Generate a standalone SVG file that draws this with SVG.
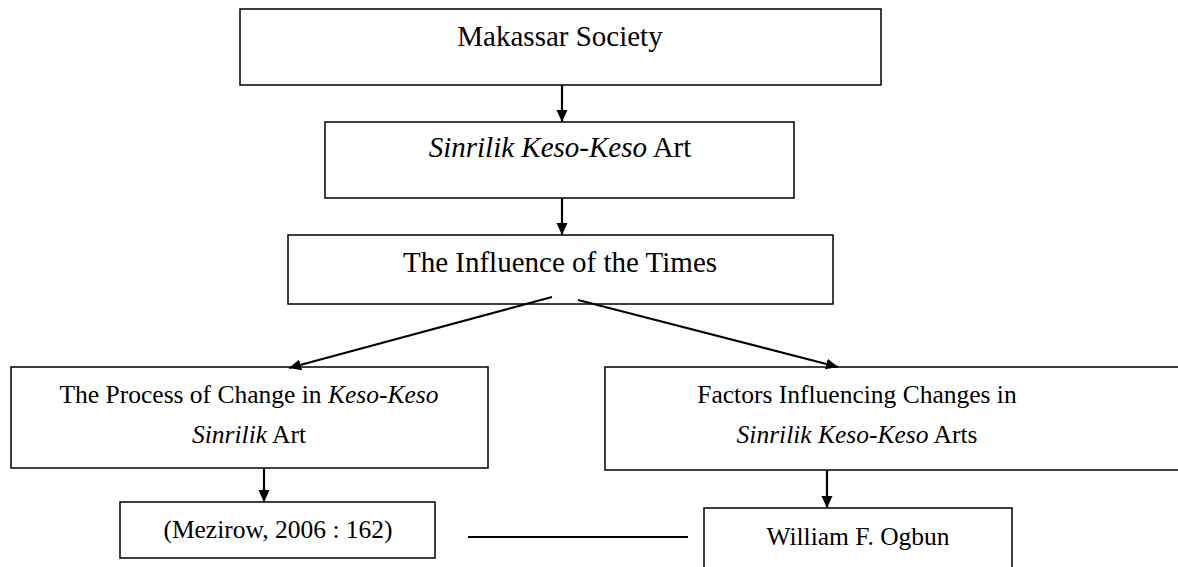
<svg xmlns="http://www.w3.org/2000/svg" width="1178" height="567" viewBox="0 0 1178 567">
<style>
.box{fill:#fff;stroke:#000;stroke-width:1.5}
.t{font-family:"Liberation Serif","Times New Roman",serif;font-size:29px;fill:#000;text-anchor:middle}
.s{font-size:25.5px}
.i{font-style:italic}
.c{stroke:#000;stroke-width:2.2;fill:none}
</style>
<defs>
<marker id="ah" markerWidth="12" markerHeight="12" refX="12" refY="6" orient="auto" markerUnits="userSpaceOnUse" viewBox="0 0 12 12">
<path d="M0,0.5 L12,6 L0,11.5 z" fill="#000"/>
</marker>
</defs>
<g id="n1"><rect class="box" x="240" y="9" width="641" height="76"/><text class="t" x="560" y="46">Makassar Society</text></g>
<g id="n2"><rect class="box" x="325" y="122" width="469" height="76"/><text class="t" x="560" y="157"><tspan class="i">Sinrilik Keso-Keso</tspan> Art</text></g>
<g id="n3"><rect class="box" x="288" y="235" width="545" height="69"/><text class="t" x="560" y="272">The Influence of the Times</text></g>
<g id="n4"><rect class="box" x="11" y="367" width="477" height="101"/><text class="t s" x="249" y="403">The Process of Change in <tspan class="i">Keso-Keso</tspan></text><text class="t s" x="249" y="443"><tspan class="i">Sinrilik</tspan> Art</text></g>
<g id="n5"><rect class="box" x="605" y="367" width="580" height="103"/><text class="t s" x="857" y="403">Factors Influencing Changes in</text><text class="t s" x="857" y="443"><tspan class="i">Sinrilik Keso-Keso</tspan> Arts</text></g>
<g id="n6"><rect class="box" x="120" y="502" width="315" height="56"/><text class="t s" x="278" y="538">(Mezirow, 2006 : 162)</text></g>
<g id="n7"><rect class="box" x="704" y="508" width="308" height="70"/><text class="t s" x="858" y="545">William F. Ogbun</text></g>
<g id="connectors">
<line class="c" x1="562" y1="85" x2="562" y2="122" marker-end="url(#ah)"/>
<line class="c" x1="562" y1="198" x2="562" y2="235" marker-end="url(#ah)"/>
<line class="c" x1="552" y1="297" x2="289" y2="368" marker-end="url(#ah)"/>
<line class="c" x1="578" y1="300" x2="838" y2="367" marker-end="url(#ah)"/>
<line class="c" x1="264" y1="468" x2="264" y2="502" marker-end="url(#ah)"/>
<line class="c" x1="827" y1="470" x2="827" y2="508" marker-end="url(#ah)"/>
<line class="c" x1="468" y1="537" x2="688" y2="537"/>
</g>
</svg>
